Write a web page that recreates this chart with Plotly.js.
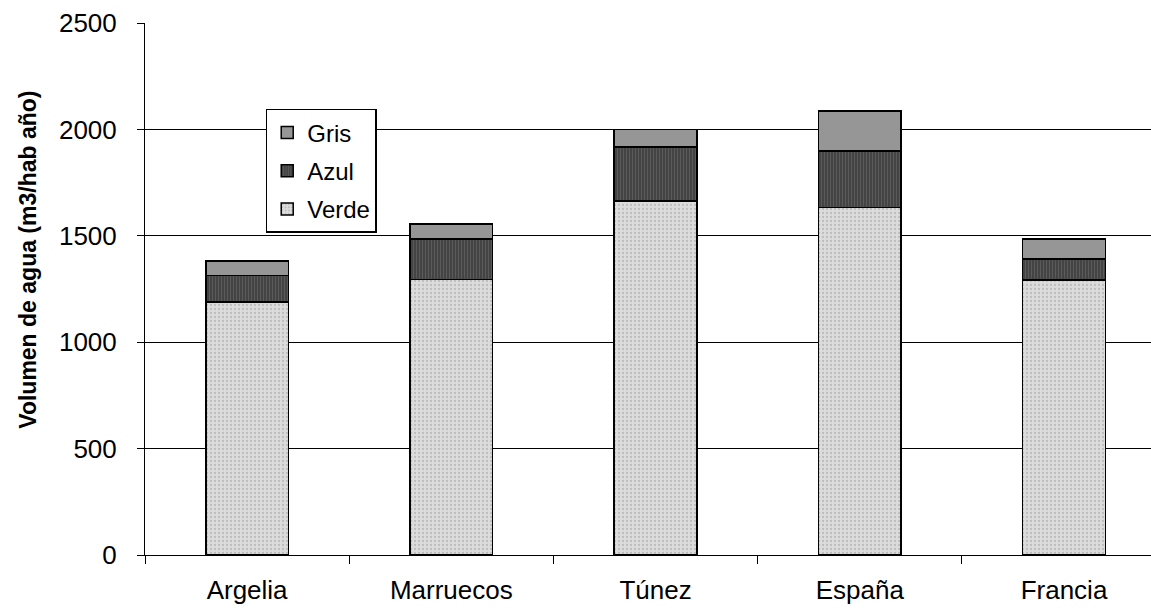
<!DOCTYPE html>
<html><head><meta charset="utf-8">
<script src="https://cdn.plot.ly/plotly-3.0.1.min.js"></script>
<style>html,body{margin:0;padding:0;background:#fff}#chart{width:1151px;height:611px}</style>
</head><body><div id="chart"></div>
<script>
const categories = ["Argelia", "Marruecos", "Túnez", "España", "Francia"];
const verde = [1190, 1295, 1664, 1633, 1293];
const azul  = [123, 190, 253, 266, 98];
const gris  = [68, 70, 83, 188, 95];
const yTicks = [0, 500, 1000, 1500, 2000, 2500];
const yTitle = "Volumen de agua (m3/hab año)";

const font = "Liberation Sans, Arial, sans-serif";
const line = {color: "#000", width: 1.5};

const traces = [
  {type: "bar", name: "Verde", x: categories, y: verde, width: 0.405, legendgroup: "v", legendrank: 3,
   marker: {color: "#d8d8d8", line: line,
     pattern: {shape: ".", bgcolor: "#dcdcdc", fgcolor: "#bdbdbd", size: 4, solidity: 0.25, fillmode: "replace"}}},
  {type: "bar", name: "Azul", x: categories, y: azul, width: 0.405, legendgroup: "a", legendrank: 2,
   marker: {color: "#4a4a4a", line: line,
     pattern: {shape: "|", bgcolor: "#444444", fgcolor: "#5a5a5a", size: 3, solidity: 0.35, fillmode: "replace"}}},
  {type: "bar", name: "Gris", x: categories, y: gris, width: 0.405, legendgroup: "g", legendrank: 1,
   marker: {color: "#969696", line: line}}
];

const layout = {
  width: 1151, height: 611,
  margin: {l: 145, r: 0, t: 23, b: 55.5},
  paper_bgcolor: "#fff", plot_bgcolor: "#fff",
  barmode: "stack",
  font: {family: font, color: "#000", size: 26},
  xaxis: {
    range: [-0.5, 4.426], fixedrange: true,
    showline: true, linecolor: "#000", linewidth: 1,
    ticks: "outside", tickson: "boundaries", ticklen: 8, tickcolor: "#000",
    tickfont: {size: 26}, ticklabelstandoff: 12, showgrid: false, zeroline: false
  },
  yaxis: {
    range: [0, 2500], tickvals: yTicks, ticktext: yTicks.map(String),
    showline: true, linecolor: "#000", linewidth: 1,
    ticks: "outside", ticklen: 7, tickcolor: "#000",
    tickfont: {size: 26}, ticklabelstandoff: 15,
    showgrid: true, gridcolor: "#000", gridwidth: 1, zeroline: false
  },
  legend: {
    x: 0.12, y: 0.8385, xanchor: "left", yanchor: "top",
    bgcolor: "#fff", bordercolor: "#000", borderwidth: 1.5,
    font: {size: 24, family: font}, traceorder: "grouped", tracegroupgap: 4,
    itemwidth: 30
  },
  showlegend: true,
  annotations: [{
    text: "<b>" + yTitle + "</b>", textangle: -90,
    xref: "paper", yref: "paper", x: -0.1163, y: 0.555,
    xanchor: "center", yanchor: "middle", showarrow: false,
    font: {size: 23, family: font}
  }]
};

Plotly.newPlot("chart", traces, layout, {displayModeBar: false, staticPlot: true});
</script></body></html>
